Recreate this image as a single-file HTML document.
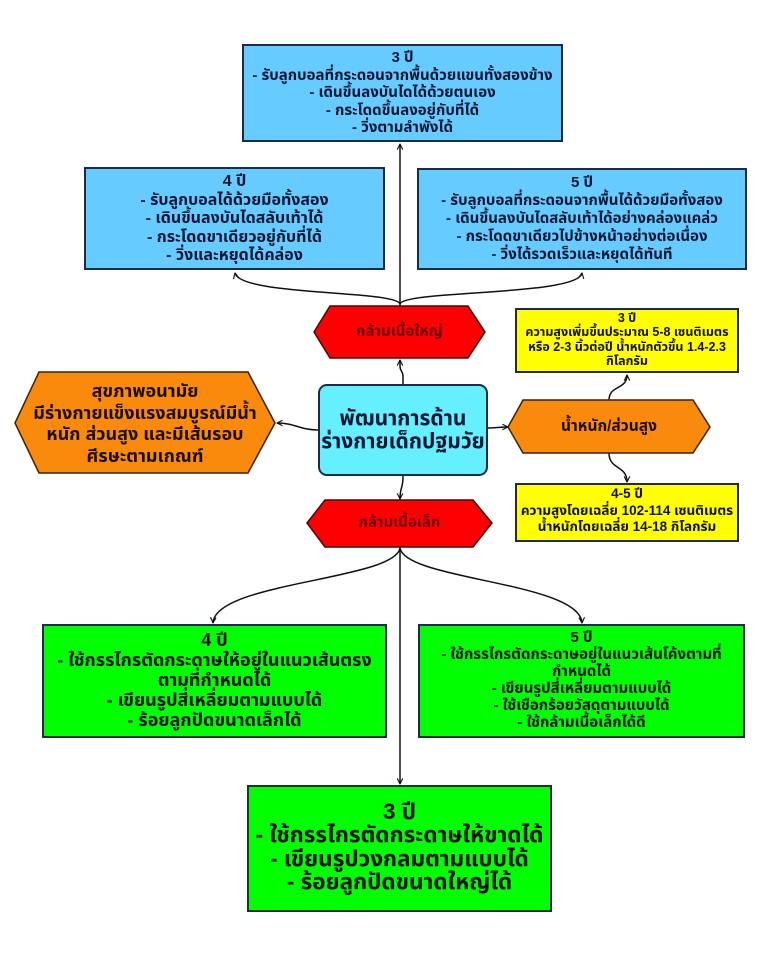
<!DOCTYPE html>
<html><head><meta charset="utf-8">
<style>
html,body{margin:0;padding:0;background:#fff;}
body{width:768px;height:960px;position:relative;overflow:hidden;font-family:"Liberation Sans","Noto Sans Thai","Noto Sans Thai UI","Loma","Garuda","Tlwg Typo","Waree","Umpush","Laksaman","Norasi","DejaVu Sans",sans-serif;font-weight:bold;}
.box{position:absolute;box-sizing:border-box;border:2px solid #1c2b4b;}
.t{position:absolute;text-align:center;white-space:nowrap;color:#0c1633;}
svg{position:absolute;left:0;top:0;}
</style></head><body>

<svg width="768" height="960" viewBox="0 0 768 960">
<defs>
<marker id="a" viewBox="0 0 10 10" refX="9" refY="5" markerWidth="7" markerHeight="7" orient="auto" markerUnits="userSpaceOnUse">
<path d="M1,1 L9,5 L1,9" fill="none" stroke="#111" stroke-width="1.6"/>
</marker>
</defs>
<g fill="none" stroke="#111" stroke-width="1.5">
<path d="M400,306 L400,144" marker-end="url(#a)"/>
<path d="M400,304 C395,290 240,296 235,273" marker-end="url(#a)"/>
<path d="M400,304 C405,290 578,296 582,273" marker-end="url(#a)"/>
<path d="M403,384 L403,377 C403,370 400,372 400,366 L400,360" marker-end="url(#a)"/>
<path d="M318,430 C300,430 295,423 277,423" marker-end="url(#a)"/>
<path d="M488,428 C495,428 500,427 508,427" marker-end="url(#a)"/>
<path d="M609,400 C609,385 627,390 627,375" marker-end="url(#a)"/>
<path d="M609,453 C609,470 627,465 627,482" marker-end="url(#a)"/>
<path d="M403,476 C403,490 400,486 400,499" marker-end="url(#a)"/>
<path d="M400,547 L400,784" marker-end="url(#a)"/>
<path d="M400,548 C395,580 215,582 213,623" marker-end="url(#a)"/>
<path d="M400,548 C405,580 580,582 582,623" marker-end="url(#a)"/>
</g>
<polygon points="314,332 330,306 468,306 485,332 468,358 330,358" fill="#ff0000" stroke="#3a0a0a" stroke-width="1.5"/>
<polygon points="307,523 325,500 473,500 492,523 473,547 325,547" fill="#ff0000" stroke="#3a0a0a" stroke-width="1.5"/>
<polygon points="15,423 39,372 248,372 275,423 248,473 39,473" fill="#f98a0b" stroke="#3a2205" stroke-width="1.5"/>
<polygon points="508,427 523,400 693,400 710,427 693,453 523,453" fill="#f98a0b" stroke="#3a2205" stroke-width="1.5"/>
</svg>

<!-- Blue boxes -->
<div class="box" style="left:242px;top:44px;width:321px;height:98px;background:#66ccff;"></div>
<div class="t" style="left:242px;top:49px;width:321px;font-size:15px;line-height:17.5px;">3 ปี<br>- รับลูกบอลที่กระดอนจากพื้นด้วยแขนทั้งสองข้าง<br>- เดินขึ้นลงบันไดได้ด้วยตนเอง<br>- กระโดดขึ้นลงอยู่กับที่ได้<br>- วิ่งตามลำพังได้</div>

<div class="box" style="left:84px;top:167px;width:301px;height:103px;background:#66ccff;"></div>
<div class="t" style="left:84px;top:173px;width:301px;font-size:16px;line-height:18.5px;">4 ปี<br>- รับลูกบอลได้ด้วยมือทั้งสอง<br>- เดินขึ้นลงบันไดสลับเท้าได้<br>- กระโดดขาเดียวอยู่กับที่ได้<br>- วิ่งและหยุดได้คล่อง</div>

<div class="box" style="left:417px;top:168px;width:330px;height:102px;background:#66ccff;"></div>
<div class="t" style="left:417px;top:174px;width:330px;font-size:15px;line-height:18px;">5 ปี<br>- รับลูกบอลที่กระดอนจากพื้นได้ด้วยมือทั้งสอง<br>- เดินขึ้นลงบันไดสลับเท้าได้อย่างคล่องแคล่ว<br>- กระโดดขาเดียวไปข้างหน้าอย่างต่อเนื่อง<br>- วิ่งได้รวดเร็วและหยุดได้ทันที</div>

<!-- Hexagon texts -->
<div class="t" style="left:314px;top:322px;width:171px;font-size:15px;line-height:20px;color:#6a0000;">กล้ามเนื้อใหญ่</div>
<div class="t" style="left:307px;top:513px;width:185px;font-size:15px;line-height:20px;color:#6a0000;">กล้ามเนื้อเล็ก</div>
<div class="t" style="left:15px;top:381px;width:260px;font-size:18px;line-height:21.5px;color:#1a1000;">สุขภาพอนามัย<br>มีร่างกายแข็งแรงสมบูรณ์มีน้ำ<br>หนัก ส่วนสูง และมีเส้นรอบ<br>ศีรษะตามเกณฑ์</div>
<div class="t" style="left:508px;top:416px;width:202px;font-size:15.5px;line-height:22px;color:#1a1000;">น้ำหนัก/ส่วนสูง</div>

<!-- Center -->
<div class="box" style="left:318px;top:384px;width:170px;height:92px;background:#66f0ff;border-radius:9px;"></div>
<div class="t" style="left:318px;top:407px;width:170px;font-size:21px;line-height:23px;">พัฒนาการด้าน<br>ร่างกายเด็กปฐมวัย</div>

<!-- Yellow -->
<div class="box" style="left:515px;top:308px;width:224px;height:65px;background:#ffff00;"></div>
<div class="t" style="left:515px;top:311px;width:224px;font-size:12.5px;line-height:14.3px;color:#111;">3 ปี<br>ความสูงเพิ่มขึ้นประมาณ 5-8 เซนติเมตร<br>หรือ 2-3 นิ้วต่อปี น้ำหนักตัวขึ้น 1.4-2.3<br>กิโลกรัม</div>

<div class="box" style="left:515px;top:483px;width:224px;height:59px;background:#ffff00;"></div>
<div class="t" style="left:515px;top:486px;width:224px;font-size:13.5px;line-height:16.5px;color:#111;">4-5 ปี<br>ความสูงโดยเฉลี่ย 102-114 เซนติเมตร<br>น้ำหนักโดยเฉลี่ย 14-18 กิโลกรัม</div>

<!-- Green -->
<div class="box" style="left:42px;top:624px;width:345px;height:114px;background:#00ff00;"></div>
<div class="t" style="left:42px;top:630px;width:345px;font-size:18px;line-height:20px;color:#111;">4 ปี<br>- ใช้กรรไกรตัดกระดาษให้อยู่ในแนวเส้นตรง<br>ตามที่กำหนดได้<br>- เขียนรูปสี่เหลี่ยมตามแบบได้<br>- ร้อยลูกปัดขนาดเล็กได้</div>

<div class="box" style="left:418px;top:624px;width:327px;height:114px;background:#00ff00;"></div>
<div class="t" style="left:418px;top:629px;width:327px;font-size:15px;line-height:17px;color:#111;">5 ปี<br>- ใช้กรรไกรตัดกระดาษอยู่ในแนวเส้นโค้งตามที่<br>กำหนดได้<br>- เขียนรูปสี่เหลี่ยมตามแบบได้<br>- ใช้เชือกร้อยวัสดุตามแบบได้<br>- ใช้กล้ามเนื้อเล็กได้ดี</div>

<div class="box" style="left:247px;top:785px;width:305px;height:127px;background:#00ff00;"></div>
<div class="t" style="left:247px;top:800px;width:305px;font-size:22.5px;line-height:23.3px;color:#111;">3 ปี<br>- ใช้กรรไกรตัดกระดาษให้ขาดได้<br>- เขียนรูปวงกลมตามแบบได้<br>- ร้อยลูกปัดขนาดใหญ่ได้</div>

</body></html>
